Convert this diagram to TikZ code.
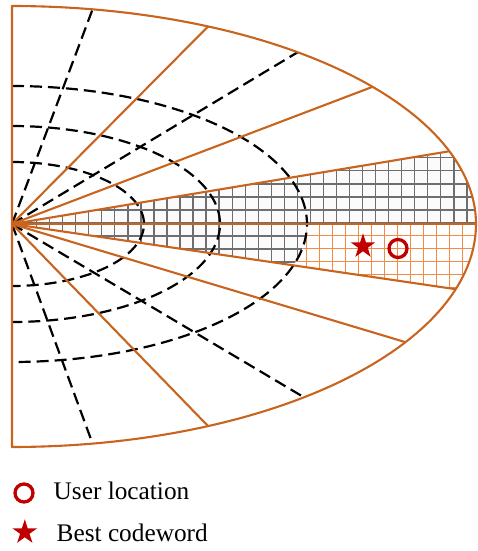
\documentclass[tikz,border=0pt]{standalone}
\usepackage{fontspec}
\setmainfont{Liberation Serif}
\usetikzlibrary{shapes.geometric}
\definecolor{borange}{RGB}{200,100,30}
\definecolor{lorange}{RGB}{240,140,70}
\definecolor{ggrid}{RGB}{110,110,110}
\definecolor{bred}{RGB}{192,0,0}
\begin{document}
\begin{tikzpicture}[x=1pt,y=-1pt,
  ray/.style={draw=borange, line width=2.1pt},
  bound/.style={draw=borange, line width=2.1pt, line join=round},
  dray/.style={draw=black, line width=2.2pt, dash pattern=on 12pt off 6pt},
  greygrid/.style={draw=ggrid, line width=1.3pt},
  orangegrid/.style={draw=lorange, line width=1pt},
  usermark/.style={circle, draw=bred, line width=3.3pt, inner sep=0pt, minimum size=18pt},
  bestmark/.style={star, star points=5, star point ratio=2.618, fill=bred, draw=none, inner sep=0pt, minimum size=26pt},
  legtext/.style={anchor=base west, inner sep=0pt, font=\fontsize{25.3}{29}\selectfont}
]
\useasboundingbox (0,0) rectangle (477,551);

\coordinate (O) at (12,224);
% orange ray end points on outer ellipse
\coordinate (r1) at ({12+464*cos(65)},{224-218*sin(65)});
\coordinate (r2) at ({12+464*cos(39)},{224-218*sin(39)});
\coordinate (r3) at ({12+464*cos(19.5)},{224-218*sin(19.5)});
\coordinate (r4) at (476,224);
\coordinate (r5) at ({12+464*cos(17)},{224+223*sin(17)});
\coordinate (r6) at ({12+464*cos(32)},{224+223*sin(32)});
\coordinate (r7) at ({12+464*cos(65)},{224+223*sin(65)});
% dashed ray end points
\coordinate (d1) at ({12+464*cos(80)},{224-218*sin(80)});
\coordinate (d2) at ({12+464*cos(52)},{224-218*sin(52)});
\coordinate (d3) at ({12+464*cos(51)},{224+223*sin(51)});
\coordinate (d4) at ({12+464*cos(80)},{224+223*sin(80)});

% grey hatched sector
\begin{scope}
  \clip (O) -- plot[domain=19.5:0, samples=20] ({12+464*cos(\x)},{224-218*sin(\x)})
        -- plot[domain=0:-17, samples=20] ({12+464*cos(\x)},{224-223*sin(\x)}) -- cycle;
  \fill[gray!3] (0,0) rectangle (477,450);
  \foreach \k in {0,...,37}{
    \draw[greygrid] ({10.5+13.04*\k},140) -- ({10.5+13.04*\k},300);
  }
  \foreach \k in {-7,...,6}{
    \draw[greygrid] (0,{223+13.04*\k}) -- (477,{223+13.04*\k});
  }
\end{scope}

% orange hatched part
\begin{scope}
  \clip (307,224) -- (476,224)
        -- plot[domain=0:-17, samples=20] ({12+464*cos(\x)},{224-223*sin(\x)})
        -- ({12+295*cos(-17.46)},{224-138*sin(-17.46)})
        -- plot[domain=-17.46:0, samples=20] ({12+295*cos(\x)},{224-138*sin(\x)}) -- cycle;
  \fill[white] (280,200) rectangle (477,300);
  \foreach \k in {21,...,36}{
    \draw[orangegrid] ({7+13*\k},210) -- ({7+13*\k},300);
  }
  \foreach \k in {0,...,6}{
    \draw[orangegrid] (280,{222+13*\k}) -- (477,{222+13*\k});
  }
\end{scope}

% dashed ellipses
\draw[dray] plot[domain=90:-90, samples=80] ({12+132*cos(\x)},{224-62*sin(\x)});
\draw[dray] plot[domain=90:-90, samples=100] ({12+208*cos(\x)},{224-98*sin(\x)});
\draw[dray] plot[domain=90:-90, samples=120] ({12+295*cos(\x)},{224-138*sin(\x)});

% dashed rays
\draw[dray] (O) -- (d1);
\draw[dray] (O) -- (d2);
\draw[dray] (O) -- (d3);
\draw[dray] (O) -- (d4);

% orange rays
\foreach \r in {r1,r2,r3,r4,r5,r6,r7}{
  \draw[ray] (O) -- (\r);
}

% outer boundary
\draw[bound] plot[domain=90:0, samples=90] ({12+464*cos(\x)},{224-218*sin(\x)})
  -- plot[domain=0:-90, samples=90] ({12+464*cos(\x)},{224-223*sin(\x)}) -- cycle;

% markers
\node[bestmark] (best) at (363,246.3) {};
\node[usermark] (user) at (398,248.5) {};

% legend
\node[usermark] (leguser) at (24,493) {};
\node[legtext] (legusertext) at (53.5,499) {User location};
\node[bestmark] (legbest) at (24.8,532.3) {};
\node[legtext] (legbesttext) at (56.5,541) {Best codeword};
\end{tikzpicture}
\end{document}
